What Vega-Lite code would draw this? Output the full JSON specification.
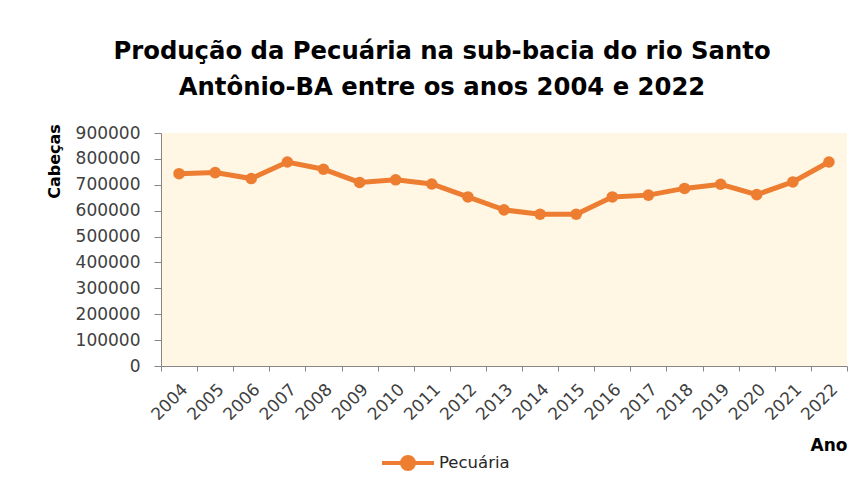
{
  "$schema": "https://vega.github.io/schema/vega-lite/v6.json",
  "width": 686,
  "height": 233,
  "autosize": {"type": "none"},
  "padding": {"left": 161, "top": 133, "right": 14, "bottom": 120},
  "background": "#ffffff",
  "title": {
    "text": ["Produção da Pecuária na sub-bacia do rio Santo", "Antônio-BA entre os anos 2004 e 2022"],
    "font": "DejaVu Sans",
    "fontSize": 24.3,
    "fontWeight": "bold",
    "color": "#000000",
    "lineHeight": 36.7,
    "anchor": "middle",
    "frame": "group",
    "dx": -62,
    "offset": 23
  },
  "data": {
    "values": [
      {"ano": "2004", "cabecas": 743000, "serie": "Pecuária"},
      {"ano": "2005", "cabecas": 747000, "serie": "Pecuária"},
      {"ano": "2006", "cabecas": 724000, "serie": "Pecuária"},
      {"ano": "2007", "cabecas": 788000, "serie": "Pecuária"},
      {"ano": "2008", "cabecas": 760000, "serie": "Pecuária"},
      {"ano": "2009", "cabecas": 709000, "serie": "Pecuária"},
      {"ano": "2010", "cabecas": 719000, "serie": "Pecuária"},
      {"ano": "2011", "cabecas": 703000, "serie": "Pecuária"},
      {"ano": "2012", "cabecas": 653000, "serie": "Pecuária"},
      {"ano": "2013", "cabecas": 603000, "serie": "Pecuária"},
      {"ano": "2014", "cabecas": 586000, "serie": "Pecuária"},
      {"ano": "2015", "cabecas": 586000, "serie": "Pecuária"},
      {"ano": "2016", "cabecas": 653000, "serie": "Pecuária"},
      {"ano": "2017", "cabecas": 660000, "serie": "Pecuária"},
      {"ano": "2018", "cabecas": 686000, "serie": "Pecuária"},
      {"ano": "2019", "cabecas": 702000, "serie": "Pecuária"},
      {"ano": "2020", "cabecas": 662000, "serie": "Pecuária"},
      {"ano": "2021", "cabecas": 711000, "serie": "Pecuária"},
      {"ano": "2022", "cabecas": 788000, "serie": "Pecuária"}
    ]
  },
  "encoding": {
    "x": {
      "field": "ano",
      "type": "ordinal",
      "bandPosition": 0.5,
      "scale": {"type": "band", "paddingInner": 0, "paddingOuter": 0},
      "axis": {
        "title": "Ano",
        "titleFont": "DejaVu Sans",
        "titleFontSize": 17,
        "titleFontWeight": "bold",
        "titleColor": "#000000",
        "titleAnchor": "end",
        "titleAlign": "right",
        "titleX": 686,
        "titleY": 84,
        "titleBaseline": "alphabetic",
        "labelAngle": -45,
        "labelAlign": "right",
        "labelBaseline": "top",
        "labelFont": "DejaVu Sans",
        "labelFontSize": 17,
        "labelColor": "#404040",
        "labelPadding": 10,
        "labelDx": -2,
        "tickBand": "extent",
        "tickSize": 5,
        "tickColor": "#868686",
        "domainColor": "#868686",
        "grid": false
      }
    },
    "y": {
      "field": "cabecas",
      "type": "quantitative",
      "scale": {"domain": [0, 900000], "nice": false},
      "axis": {
        "title": "Cabeças",
        "titleFont": "DejaVu Sans",
        "titleFontSize": 16,
        "titleFontWeight": "bold",
        "titleColor": "#000000",
        "titleAngle": -90,
        "titleAlign": "center",
        "titleBaseline": "alphabetic",
        "titleX": -102,
        "titleY": 28,
        "values": [0, 100000, 200000, 300000, 400000, 500000, 600000, 700000, 800000, 900000],
        "format": "d",
        "labelFont": "DejaVu Sans",
        "labelFontSize": 17,
        "labelColor": "#404040",
        "labelPadding": 14,
        "tickSize": 7,
        "tickColor": "#868686",
        "domainColor": "#868686",
        "grid": false
      }
    },
    "color": {
      "field": "serie",
      "type": "nominal",
      "scale": {"range": ["#ED7D31"]},
      "legend": {
        "title": null,
        "orient": "none",
        "legendX": 219,
        "legendY": 302,
        "padding": 0,
        "symbolType": "M-1,0H1M0.23,0A0.23,0.23 0 1 1 -0.23,0A0.23,0.23 0 1 1 0.23,0Z",
        "symbolSize": 2704,
        "symbolStrokeWidth": 4,
        "symbolFillColor": "#ED7D31",
        "symbolStrokeColor": "#ED7D31",
        "labelFont": "DejaVu Sans",
        "labelFontSize": 16.5,
        "labelColor": "#262626",
        "labelOffset": 3,
        "encode": {
          "symbols": {"update": {"fill": {"value": "#ED7D31"}, "stroke": {"value": "#ED7D31"}, "strokeWidth": {"value": 4}, "opacity": {"value": 1}}}
        }
      }
    }
  },
  "layer": [
    {"mark": {"type": "line", "strokeWidth": 5}},
    {"mark": {"type": "point", "filled": true, "size": 133, "opacity": 1}}
  ],
  "config": {
    "view": {"fill": "#FFF6E4", "stroke": null}
  }
}
